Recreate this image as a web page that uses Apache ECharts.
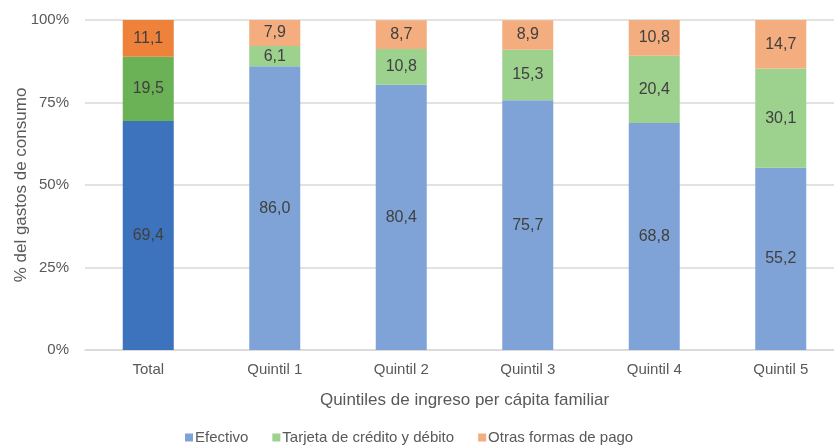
<!DOCTYPE html>
<html><head><meta charset="utf-8">
<script src="https://cdn.jsdelivr.net/npm/echarts@6/dist/echarts.min.js"></script>
<style>html,body{margin:0;padding:0;background:#fff}#c{width:834px;height:446px}</style>
</head><body><div id="c"></div>
<script>
const categories = ['Total','Quintil 1','Quintil 2','Quintil 3','Quintil 4','Quintil 5'];
const efectivo = [69.4, 86.0, 80.4, 75.7, 68.8, 55.2];
const tarjeta = [19.5, 6.1, 10.8, 15.3, 20.4, 30.1];
const otras = [11.1, 7.9, 8.7, 8.9, 10.8, 14.7];
const yTicks = [0, 25, 50, 75, 100];
const seriesNames = ['Efectivo','Tarjeta de crédito y débito','Otras formas de pago'];
const colors = ['#7FA3D6','#9DD18E','#F4AD7E'];
const totalColors = ['#3D72BC','#6BB155','#EF823B'];

const chart = echarts.init(document.getElementById('c'), null, {renderer:'canvas'});
const font = '"Liberation Sans", Arial, sans-serif';
function mk(name, vals, i){
  return {
    name, type:'bar', stack:'s', barWidth:51,
    itemStyle:{color:colors[i]},
    label:{show:true, position:'inside', color:'#404040', fontSize:16, fontFamily:font,
      formatter:p=>p.value.toFixed(1).replace('.',',')},
    data: vals.map((v,k)=> k===0 ? {value:v, itemStyle:{color:totalColors[i]}} : v)
  };
}
chart.setOption({
  animation:false,
  textStyle:{fontFamily:font},
  grid:{left:85, width:759, top:20, bottom:96, containLabel:false, outerBoundsMode:'none'},
  legend:{top:430, left:185, padding:0, itemWidth:8, itemHeight:8, itemGap:24, icon:'rect',
    textStyle:{color:'#595959', fontSize:15, fontFamily:font, padding:[0,0,0,-3]},
    data:seriesNames},
  xAxis:{type:'category', data:categories,
    name:'Quintiles de ingreso per cápita familiar', nameLocation:'middle', nameGap:42,
    nameMoveOverlap:false,
    nameTextStyle:{color:'#595959', fontSize:17, fontFamily:font},
    axisLine:{lineStyle:{color:'#D9D9D9', width:1.5}}, axisTick:{show:false},
    axisLabel:{color:'#595959', fontSize:15, margin:12, fontFamily:font}},
  yAxis:{type:'value', min:0, max:100, interval:25,
    name:'% del gastos de consumo', nameLocation:'middle', nameGap:55,
    nameMoveOverlap:false,
    nameTextStyle:{color:'#595959', fontSize:17, fontFamily:font},
    axisLabel:{color:'#595959', fontSize:15, margin:16, fontFamily:font,
      formatter:v=> yTicks.includes(v) ? v+'%' : ''},
    splitLine:{lineStyle:{color:'#D9D9D9', width:1.5}}},
  series:[mk(seriesNames[0],efectivo,0), mk(seriesNames[1],tarjeta,1), mk(seriesNames[2],otras,2)]
});
</script></body></html>
